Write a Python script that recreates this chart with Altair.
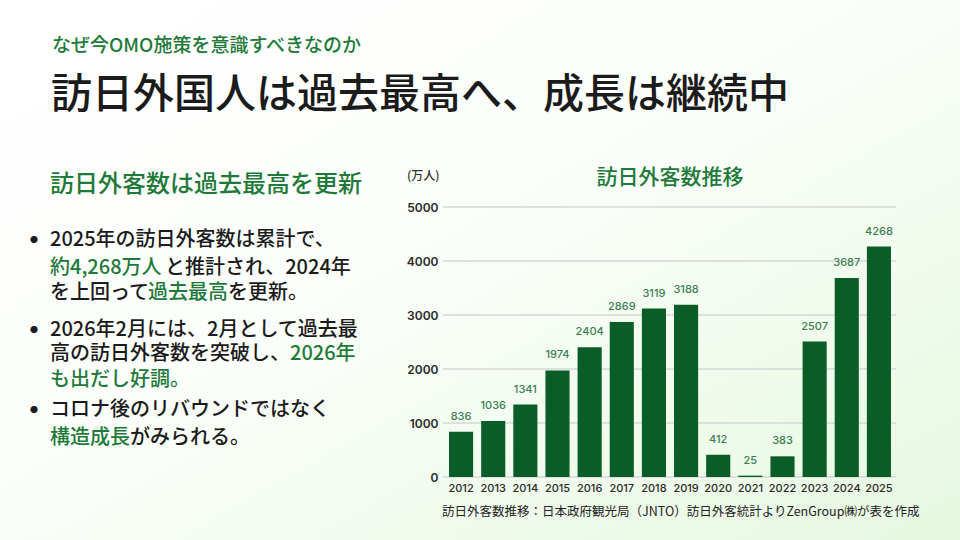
import altair as alt
import pandas as pd

# ---- data ----
years = ["2012", "2013", "2014", "2015", "2016", "2017", "2018",
         "2019", "2020", "2021", "2022", "2023", "2024", "2025"]
visitors = [836, 1036, 1341, 1974, 2404, 2869, 3119, 3188, 412, 25, 383, 2507, 3687, 4268]
y_ticks = [0, 1000, 2000, 3000, 4000, 5000]

subtitle = "なぜ今OMO施策を意識すべきなのか"
main_title = "訪日外国人は過去最高へ、成長は継続中"
left_heading = "訪日外客数は過去最高を更新"
chart_title = "訪日外客数推移"
unit_label = "(万人)"
source_note = "訪日外客数推移：日本政府観光局（JNTO）訪日外客統計よりZenGroup㈱が表を作成"

# bullet text segments: (text, is_highlight)
bullet_lines = [
    [("2025年の訪日外客数は累計で、", False)],
    [("約4,268万人", True), ("と推計され、2024年", False)],
    [("を上回って", False), ("過去最高", True), ("を更新。", False)],
    [("2026年2月には、2月として過去最", False)],
    [("高の訪日外客数を突破し、", False), ("2026年", True)],
    [("も出だし好調。", True)],
    [("コロナ後のリバウンドではなく", False)],
    [("構造成長", True), ("がみられる。", False)],
]
bullet_line_y = [240, 268, 293, 330, 354, 380, 410, 438]
bullet_seg_x = [[50], [50, 165], [50, 148, 228], [50], [50, 290], [50], [50], [50, 130]]
bullet_dot_y = [241, 331, 411]

# ---- style ----
JP = "Noto Sans CJK JP"
NUM = "Inter"
GREEN_TXT = "#1f7a3a"
BAR = "#0b5d27"
LABEL_GREEN = "#3a7f52"
DARK = "#1b1b1b"
OX, OY = 445, 207          # plot origin in page pixels
PW, PH = 450, 270          # plot size


def label(text, x, y, size, color, weight=400, align="left", font=JP):
    return alt.Chart(pd.DataFrame({"t": [text]})).mark_text(
        align=align, baseline="middle", fontSize=size, color=color,
        fontWeight=weight, font=font
    ).encode(x=alt.value(x - OX), y=alt.value(y - OY), text="t:N")


# background gradient
bg = alt.Chart(pd.DataFrame({"a": [0]})).mark_rect(
    color=alt.LinearGradient(
        gradient="linear", x1=0, y1=0, x2=1, y2=1,
        stops=[alt.GradientStop(color="#ffffff", offset=0),
               alt.GradientStop(color="#fbfefa", offset=0.45),
               alt.GradientStop(color="#e6f8e0", offset=1)]
    )
).encode(x=alt.value(-OX), x2=alt.value(960 - OX), y=alt.value(-OY), y2=alt.value(540 - OY))

df = pd.DataFrame({"year": years, "value": visitors})
grid_df = pd.DataFrame({"value": y_ticks})

x_enc = alt.X("year:N", sort=years, title=None,
              scale=alt.Scale(paddingInner=0.25, paddingOuter=0.125),
              axis=alt.Axis(labelAngle=0, domain=False, ticks=False, labelPadding=5,
                            labelFont=NUM, labelFontSize=11, labelColor="#2a2a2a",
                            labelFontWeight=500, zindex=1))
y_enc = alt.Y("value:Q", title=None,
              scale=alt.Scale(domain=[0, 5000], nice=False),
              axis=alt.Axis(values=y_ticks, format="d", grid=False, domain=False, ticks=False,
                            labelPadding=7, labelFont=NUM, labelFontSize=12,
                            labelColor="#2a2a2a", labelFontWeight=600, zindex=1))

grid = alt.Chart(grid_df).mark_rule(color="#d5d8d5", strokeWidth=1.5).encode(
    y=y_enc, x=alt.value(-2), x2=alt.value(PW + 1))

bars = alt.Chart(df).mark_bar(color=BAR).encode(x=x_enc, y=y_enc)
bar_labels = alt.Chart(df).mark_text(
    baseline="bottom", dy=-10, fontSize=11, font=NUM, color=LABEL_GREEN, fontWeight=500
).encode(x=x_enc, y=y_enc, text="value:Q")

texts = [
    label(subtitle, 52, 46, 19, GREEN_TXT, 500),
    label(main_title, 51, 96, 41, DARK, 500),
    label(left_heading, 50, 185, 24, GREEN_TXT, 500),
    label(chart_title, 670, 178, 21, GREEN_TXT, 500, align="center"),
    label(unit_label, 407, 176, 12, "#333333", 500),
    label(source_note, 442, 512, 12.5, "#222222", 400),
]
for dy in bullet_dot_y:
    texts.append(label("●", 34, dy, 8, DARK, 400, align="center"))
for segs, ly, xs in zip(bullet_lines, bullet_line_y, bullet_seg_x):
    for (t, hl), sx in zip(segs, xs):
        texts.append(label(t, sx, ly, 20, GREEN_TXT if hl else DARK, 500))

chart = alt.layer(bg, grid, bars, bar_labels, *texts).properties(
    width=PW, height=PH,
    padding={"left": OX, "top": OY, "right": 960 - OX - PW, "bottom": 540 - OY - PH},
    autosize="none", background="#ffffff"
).configure_view(stroke=None)

chart.save("out.html", embed_options={"renderer": "svg", "actions": False})
